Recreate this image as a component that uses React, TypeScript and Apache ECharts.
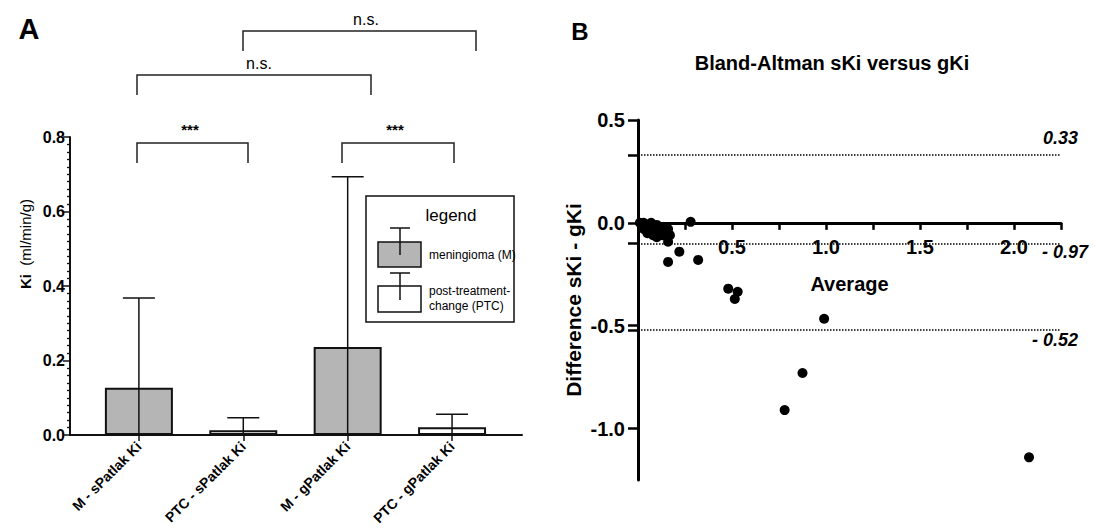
import React, { useEffect, useRef } from 'react';
import * as echarts from 'echarts';

const FONT = '"Liberation Sans", Arial, Helvetica, sans-serif';

// ---------- Panel A data ----------
const categories = ['M - sPatlak Ki', 'PTC - sPatlak Ki', 'M - gPatlak Ki', 'PTC - gPatlak Ki'];
const meanKi = [0.127, 0.013, 0.236, 0.021];
const sdUpperKi = [0.368, 0.046, 0.693, 0.056];
const barGroup = ['M', 'PTC', 'M', 'PTC'];

// ---------- Panel B data ----------
const baAverage = [
  0.01, 0.02, 0.03, 0.04, 0.05, 0.06, 0.07, 0.08, 0.09, 0.10, 0.11, 0.12, 0.13, 0.14, 0.15,
  0.05, 0.08, 0.03, 0.10, 0.16, 0.17, 0.12,
  0.28, 0.16, 0.22, 0.16, 0.32, 0.48, 0.53, 0.515, 0.99, 0.875, 0.78, 2.08,
];
const baDifference = [
  0.0, -0.01, 0.0, -0.02, -0.01, -0.03, 0.0, -0.02, -0.04, -0.01, -0.05, -0.03, -0.06, -0.02, -0.05,
  -0.05, -0.06, -0.03, -0.07, -0.03, -0.06, -0.04,
  0.005, -0.092, -0.14, -0.19, -0.18, -0.32, -0.335, -0.37, -0.466, -0.73, -0.91, -1.14,
];
const limitValues = [0.33, -0.097, -0.52];
const limitLabels = ['0.33', '- 0.97', '- 0.52'];
const baYMin = -1.25;
const baYMax = 0.5;
const baYLabelTicks = [0.5, 0, -0.5, -1.0];
const baXLabelTicks = [0.5, 1.0, 1.5, 2.0];
const baXMinorTicks = [0.25, 0.5, 0.75, 1.0, 1.25, 1.5, 1.75, 2.0, 2.25];

const GRAY = '#b5b5b5';
const GRID_B = { left: 638, top: 120, width: 423, height: 360 };

function bracket(x1: number, x2: number, yTop: number, yLeg: number) {
  return {
    type: 'polyline',
    shape: { points: [[x1, yLeg], [x1, yTop], [x2, yTop], [x2, yLeg]] },
    style: { stroke: '#222', lineWidth: 1.5, fill: 'none' },
    silent: true,
  };
}

function txt(x: number, y: number, text: string, font: string, align = 'center', extra: any = {}) {
  return {
    type: 'text',
    x,
    y,
    silent: true,
    style: { text, font, fill: '#000', align, verticalAlign: 'middle', ...extra },
  };
}

function line(x1: number, y1: number, x2: number, y2: number, w = 1.5) {
  return { type: 'line', silent: true, shape: { x1, y1, x2, y2 }, style: { stroke: '#111', lineWidth: w } };
}

function baseGraphics(): any[] {
  return [
    txt(29, 29, 'A', `bold 29px ${FONT}`),
    txt(580, 31, 'B', `bold 24px ${FONT}`),
    txt(832, 63, 'Bland-Altman sKi versus gKi', `bold 20px ${FONT}`),
    // significance brackets
    bracket(137, 248, 143, 163),
    txt(190, 129, '***', `bold 15px ${FONT}`),
    bracket(342, 454, 143, 163),
    txt(395, 129, '***', `bold 15px ${FONT}`),
    bracket(137, 371, 75, 95),
    txt(259, 63, 'n.s.', `16px ${FONT}`),
    bracket(243, 476, 31, 51),
    txt(366, 19, 'n.s.', `16px ${FONT}`),
    // y-axis name panel A
    {
      type: 'text',
      x: 25,
      y: 244,
      rotation: Math.PI / 2,
      silent: true,
      style: {
        text: '{b|Ki}  (ml/min/g)',
        font: `15px ${FONT}`,
        fill: '#000',
        align: 'center',
        verticalAlign: 'middle',
        rich: { b: { font: `bold 15px ${FONT}`, fill: '#000' } },
      },
    },
    // legend box
    {
      type: 'rect',
      silent: true,
      shape: { x: 366, y: 196, width: 148, height: 126 },
      style: { fill: '#fff', stroke: '#111', lineWidth: 1.5 },
    },
    txt(451, 215, 'legend', `17px ${FONT}`),
    {
      type: 'rect',
      silent: true,
      shape: { x: 378, y: 242, width: 43, height: 25 },
      style: { fill: GRAY, stroke: '#111', lineWidth: 1.5 },
    },
    line(400, 228, 400, 255),
    line(390, 228, 410, 228),
    {
      type: 'rect',
      silent: true,
      shape: { x: 378, y: 286, width: 43, height: 26 },
      style: { fill: '#fff', stroke: '#111', lineWidth: 1.5 },
    },
    line(400, 273, 400, 300),
    line(390, 273, 410, 273),
    txt(429, 255, 'meningioma (M)', `12px ${FONT}`, 'left'),
    txt(429, 291, 'post-treatment-', `12px ${FONT}`, 'left'),
    txt(429, 306, 'change (PTC)', `12px ${FONT}`, 'left'),
  ];
}

export default function App() {
  const ref = useRef<HTMLDivElement>(null);

  useEffect(() => {
    document.body.style.margin = '0';
    if (!ref.current) return;
    const chart = echarts.init(ref.current, undefined, { renderer: 'svg' });

    const barData = meanKi.map((v, i) => ({
      value: [i, v],
      itemStyle: { color: barGroup[i] === 'M' ? GRAY : '#ffffff' },
    }));
    const errData = meanKi.map((v, i) => [i, v, sdUpperKi[i]]);
    const scatterData = baAverage.map((a, i) => [a, baDifference[i]]);

    // distance of the zero line above the bottom of grid B (x axis sits on y = 0)
    const zeroOffset = -((0 - baYMin) / (baYMax - baYMin)) * GRID_B.height;

    const option: any = {
      animation: false,
      backgroundColor: '#fff',
      textStyle: { fontFamily: FONT },
      grid: [
        { left: 70, top: 137, width: 452, height: 298, containLabel: false },
        { ...GRID_B, containLabel: false },
      ],
      xAxis: [
        {
          gridIndex: 0,
          type: 'value',
          min: -0.66,
          max: 3.67,
          splitLine: { show: false },
          axisLine: { show: true, onZero: false, lineStyle: { color: '#111', width: 2 } },
          axisTick: { show: true, customValues: [0, 1, 2, 3], length: 6, lineStyle: { color: '#111', width: 1.5 } },
          axisLabel: {
            customValues: [0, 1, 2, 3],
            rotate: 45,
            margin: 9,
            formatter: (v: number) => categories[Math.round(v)] ?? '',
            color: '#000',
            fontWeight: 'bold',
            fontSize: 14,
            fontFamily: FONT,
          },
        },
        {
          gridIndex: 1,
          type: 'value',
          min: 0,
          max: 2.25,
          position: 'bottom',
          offset: zeroOffset,
          name: 'Average',
          nameLocation: 'middle',
          nameGap: 51,
          nameTextStyle: { color: '#000', fontWeight: 'bold', fontSize: 20, fontFamily: FONT },
          splitLine: { show: false },
          axisLine: { show: true, onZero: false, lineStyle: { color: '#000', width: 3 } },
          axisTick: { show: true, customValues: baXMinorTicks, length: 7, lineStyle: { color: '#000', width: 2.5 } },
          axisLabel: {
            customValues: baXLabelTicks,
            margin: 14,
            formatter: (v: number) => v.toFixed(1),
            color: '#000',
            fontWeight: 'bold',
            fontSize: 20,
            fontFamily: FONT,
          },
        },
      ],
      yAxis: [
        {
          gridIndex: 0,
          type: 'value',
          min: 0,
          max: 0.8,
          interval: 0.2,
          splitLine: { show: false },
          axisLine: { show: true, onZero: false, lineStyle: { color: '#111', width: 2 } },
          axisTick: { show: true, length: 7, lineStyle: { color: '#111', width: 1.5 } },
          minorTick: { show: true, splitNumber: 10, length: 3, lineStyle: { color: '#111', width: 1.3 } },
          axisLabel: {
            margin: 5,
            formatter: (v: number) => v.toFixed(1),
            color: '#000',
            fontWeight: 'bold',
            fontSize: 16,
            fontFamily: FONT,
          },
        },
        {
          gridIndex: 1,
          type: 'value',
          min: baYMin,
          max: baYMax,
          name: 'Difference sKi - gKi',
          nameLocation: 'middle',
          nameGap: 54,
          nameTextStyle: { color: '#000', fontWeight: 'bold', fontSize: 21, fontFamily: FONT },
          splitLine: { show: false },
          axisLine: { show: true, onZero: false, lineStyle: { color: '#000', width: 3 } },
          axisTick: {
            show: true,
            customValues: [...baYLabelTicks, ...limitValues],
            length: 10,
            lineStyle: { color: '#000', width: 2.5 },
          },
          axisLabel: {
            customValues: baYLabelTicks,
            margin: 13,
            formatter: (v: number) => v.toFixed(1),
            color: '#000',
            fontWeight: 'bold',
            fontSize: 20,
            fontFamily: FONT,
          },
        },
      ],
      series: [
        {
          type: 'bar',
          xAxisIndex: 0,
          yAxisIndex: 0,
          barWidth: 68,
          data: barData,
          itemStyle: { borderColor: '#111', borderWidth: 2 },
          z: 2,
        },
        {
          type: 'custom',
          xAxisIndex: 0,
          yAxisIndex: 0,
          encode: { x: 0, y: [1, 2] },
          data: errData,
          z: 5,
          renderItem: (_p: any, api: any) => {
            const x = api.value(0);
            const hi = api.value(2);
            const base = api.coord([x, 0]);
            const top = api.coord([x, hi]);
            const half = 16;
            return {
              type: 'group',
              children: [
                { type: 'line', shape: { x1: base[0], y1: base[1], x2: top[0], y2: top[1] }, style: { stroke: '#111', lineWidth: 1.5 } },
                { type: 'line', shape: { x1: top[0] - half, y1: top[1], x2: top[0] + half, y2: top[1] }, style: { stroke: '#111', lineWidth: 1.5 } },
              ],
            };
          },
        },
        {
          type: 'scatter',
          xAxisIndex: 1,
          yAxisIndex: 1,
          symbolSize: 10,
          itemStyle: { color: '#000', opacity: 1 },
          data: scatterData,
          z: 5,
          markLine: {
            silent: true,
            symbol: 'none',
            animation: false,
            lineStyle: { type: 'dotted', color: '#000', width: 1.5 },
            label: { show: false },
            data: limitValues.map((v) => ({ yAxis: v })),
          },
        },
      ],
      graphic: baseGraphics(),
    };

    chart.setOption(option);

    // Labels of the limit lines, placed with the chart's own y scale
    const labelDx = [1078, 1088, 1078];
    const labelDy = [-17, 9, 10];
    const limitTexts = limitValues.map((v, i) => {
      const p = chart.convertToPixel({ gridIndex: 1 } as any, [0, v]) as number[];
      return txt(labelDx[i], p[1] + labelDy[i], limitLabels[i], `italic bold 18px ${FONT}`, 'right');
    });
    chart.setOption({ graphic: [...baseGraphics(), ...limitTexts] });

    return () => chart.dispose();
  }, []);

  return <div ref={ref} style={{ width: 1095, height: 528 }} />;
}
